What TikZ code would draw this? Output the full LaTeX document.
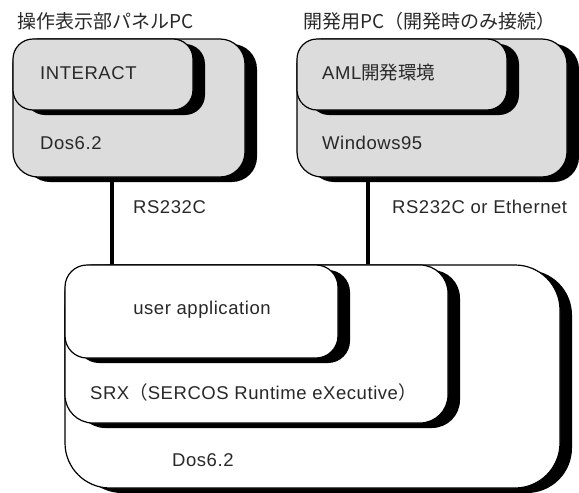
\documentclass[tikz,border=0pt]{standalone}
\usepackage{fontspec}
\setmainfont{Liberation Sans}[LetterSpace=3]
\newfontfamily\jp{Noto Sans CJK JP}
\usetikzlibrary{shadows}
\definecolor{boxgray}{RGB}{220,220,220}
\definecolor{txtcol}{RGB}{40,40,40}
\tikzset{
  box/.style={draw=black, line width=1.2pt, rounded corners=#1, inner sep=0pt,
    general shadow={fill=black, shadow xshift=12pt, shadow yshift=-5pt}},
  graybox/.style={box=#1, fill=boxgray},
  whitebox/.style={box=#1, fill=white},
  lbl/.style={inner sep=0pt, anchor=west, text=txtcol, font=\fontsize{18.5}{20}\selectfont},
  jlbl/.style={inner sep=0pt, anchor=west, text=txtcol, font=\jp\fontsize{19}{21}\selectfont},
  conn/.style={line width=3.5pt}
}
\begin{document}
\begin{tikzpicture}[x=1pt,y=-1pt]
\useasboundingbox (0,0) rectangle (579,493);
\coordinate (lx) at (112,0);
\coordinate (rx) at (368,0);
% boxes
\node[graybox=25pt, minimum width=232pt, minimum height=138pt] (panelpc) at (129,108) {};
\node[graybox=20pt, minimum width=180pt, minimum height=71pt] (interact) at (103,74.5) {};
\node[graybox=25pt, minimum width=270pt, minimum height=138pt] (devpc) at (432,108) {};
\node[graybox=20pt, minimum width=210pt, minimum height=71pt] (aml) at (402,74.5) {};
\node[whitebox=45pt, minimum width=495pt, minimum height=223pt] (dos) at (312.5,376.5) {};
\node[whitebox=28pt, minimum width=383pt, minimum height=158pt] (srx) at (256.5,344) {};
\node[whitebox=22pt, minimum width=273pt, minimum height=93pt] (uapp) at (201.5,311.5) {};
% connectors
\draw[conn] (panelpc.south -| lx) -- (dos.north -| lx);
\draw[conn] (devpc.south -| rx) -- (dos.north -| rx);
% labels
\node[jlbl] (t1) at (17,21) {操作表示部パネルPC};
\node[jlbl] (t2) at (303,21) {開発用PC（開発時のみ接続）};
\node[lbl] (l1) at (40,73) {INTERACT};
\node[lbl] (l2) at (40,143) {Dos6.2};
\node[lbl] (l3) at (322,73) {AML{\jp 開発環境}};
\node[lbl] (l4) at (322,143) {Windows95};
\node[lbl] (l5) at (133,207) {RS232C};
\node[lbl] (l6) at (392,207) {RS232C or Ethernet};
\node[lbl, anchor=center] (l7) at (202,310) {user application};
\node[lbl] (l8) at (90,392) {SRX{\jp （}SERCOS Runtime eXecutive{\jp ）}};
\node[lbl] (l9) at (172,460) {Dos6.2};
\end{tikzpicture}
\end{document}
